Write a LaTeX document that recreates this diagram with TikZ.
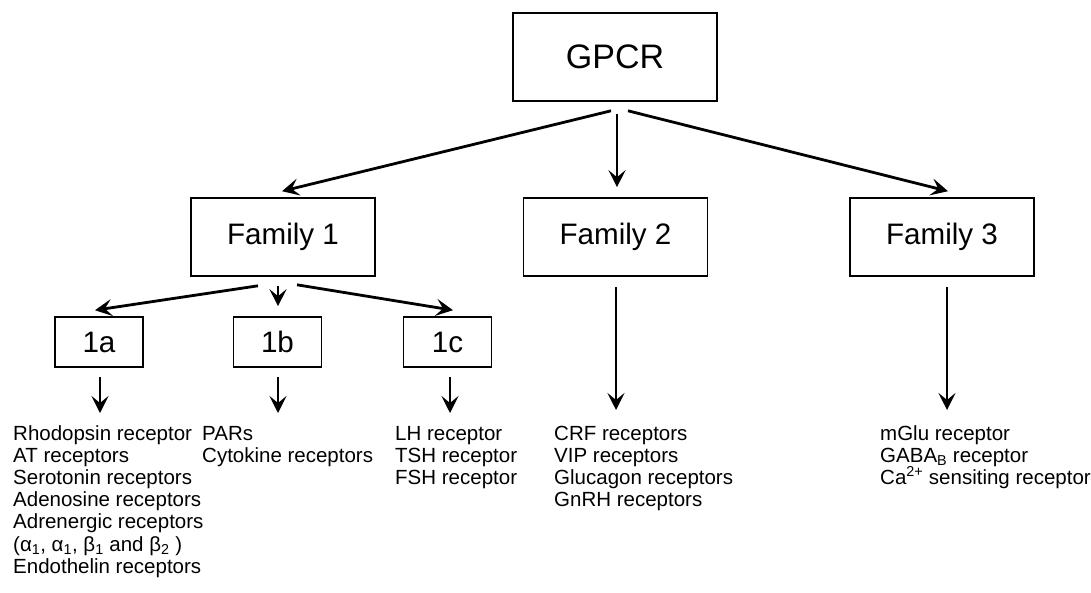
\documentclass[tikz,border=0pt]{standalone}
\usepackage{fontspec}
\setmainfont{Liberation Sans}
\usetikzlibrary{arrows.meta}
\begin{document}
\begin{tikzpicture}[x=1pt,y=-1pt,
  box/.style={draw,line width=1.6pt,inner sep=0pt},
  bigbox/.style={box,minimum width=184pt,minimum height=78pt,font=\fontsize{29.6}{32}\selectfont},
  smallbox/.style={box,minimum width=88pt,minimum height=50pt,font=\fontsize{29.6}{32}\selectfont},
  arr/.style={-{Stealth[length=17pt,width=17pt,inset=7pt]},line width=2.8pt},
  lst/.style={anchor=base west,inner sep=0pt,font=\fontsize{20.5}{22}\selectfont}]
\useasboundingbox (0,0) rectangle (1091,592);
\node[box,minimum width=204pt,minimum height=88pt,font=\fontsize{34}{36}\selectfont] (g) at (615,57) {GPCR};
\node[bigbox] (f1) at (283,237) {Family 1};
\node[bigbox] (f2) at (615.5,237) {Family 2};
\node[bigbox] (f3) at (942,237) {Family 3};
\node[smallbox] (a) at (99,342) {1a};
\node[smallbox] (b) at (277.5,342) {1b};
\node[smallbox] (c) at (447.5,342) {1c};
% end points of downward arrows
\coordinate (ea) at (100,413);
\coordinate (eb) at (278,413);
\coordinate (ec) at (450,413);
\coordinate (e2) at (616,410);
\coordinate (e3) at (947,410);
% arrows
\draw[arr] ([shift={(-4,9)}]g.south) -- ([shift={(-1,-6)}]f1.north);
\draw[arr,line width=2.2pt] ([shift={(2,12)}]g.south) -- ([shift={(1.5,-10)}]f2.north);
\draw[arr] ([shift={(13,9)}]g.south) -- ([shift={(6,-6)}]f3.north);
\draw[arr] ([shift={(-25,9)}]f1.south) -- ([shift={(-4,-6)}]a.north);
\draw[arr] ([shift={(-5,9)}]f1.south) -- ([shift={(0.5,-10)}]b.north);
\draw[arr] ([shift={(14,8)}]f1.south) -- ([shift={(5.5,-6)}]c.north);
\draw[arr] ([shift={(1,9)}]a.south) -- (ea);
\draw[arr] ([shift={(0.5,9)}]b.south) -- (eb);
\draw[arr] ([shift={(2.5,9)}]c.south) -- (ec);
\draw[arr] ([shift={(0.5,10)}]f2.south) -- (e2);
\draw[arr] ([shift={(5,10)}]f3.south) -- (e3);
% lists
\node[lst] (l11) at (13,440) {Rhodopsin receptor};
\node[lst] (l12) at (13,462.2) {AT receptors};
\node[lst] (l13) at (13,484.4) {Serotonin receptors};
\node[lst] (l14) at (13,506.6) {Adenosine receptors};
\node[lst] (l15) at (13,528.8) {Adrenergic receptors};
\node[lst] (l16) at (13,551) {(α\textsubscript{1}, α\textsubscript{1}, β\textsubscript{1} and β\textsubscript{2} )};
\node[lst] (l17) at (13,573.2) {Endothelin receptors};
\node[lst] (l21) at (202,440) {PARs};
\node[lst] (l22) at (202,462.2) {Cytokine receptors};
\node[lst] (l31) at (395,440) {LH receptor};
\node[lst] (l32) at (395,462.2) {TSH receptor};
\node[lst] (l33) at (395,484.4) {FSH receptor};
\node[lst] (l41) at (554,440) {CRF receptors};
\node[lst] (l42) at (554,462.2) {VIP receptors};
\node[lst] (l43) at (554,484.4) {Glucagon receptors};
\node[lst] (l44) at (554,506.6) {GnRH receptors};
\node[lst] (l51) at (880,440) {mGlu receptor};
\node[lst] (l52) at (880,462.2) {GABA\textsubscript{B} receptor};
\node[lst] (l53) at (880,484.4) {Ca\textsuperscript{2+} sensiting receptor};
\end{tikzpicture}
\end{document}
